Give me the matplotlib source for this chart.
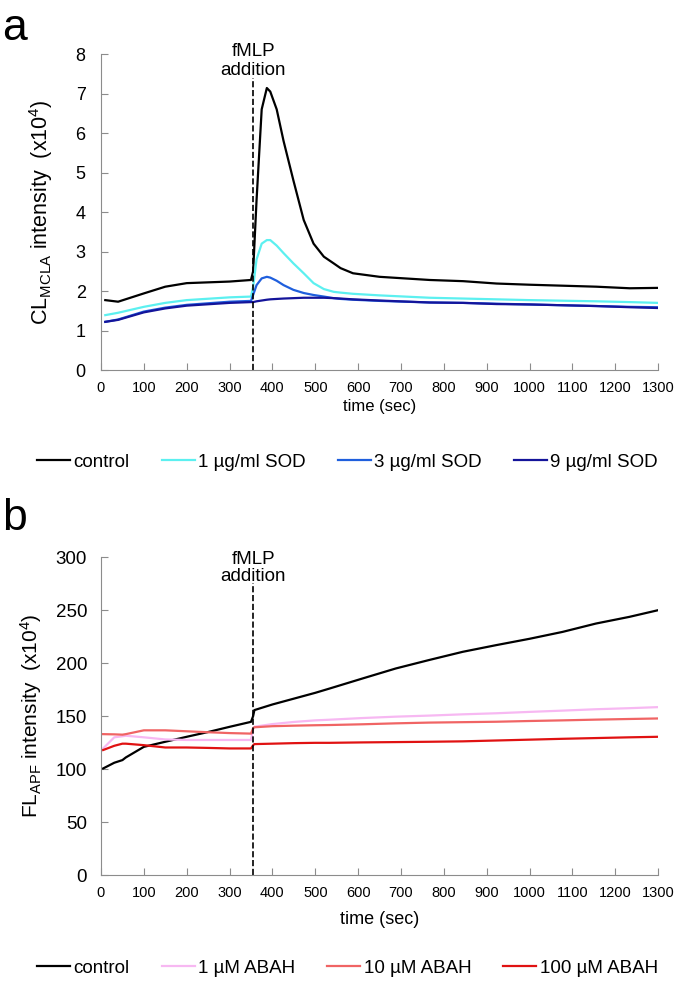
import matplotlib
matplotlib.use("Agg")
import matplotlib.pyplot as plt

plt.rcParams['font.family'] = ['Liberation Sans', 'DejaVu Sans']
plt.rcParams['mathtext.default'] = 'regular'

# panel a: CL (MCLA) intensity, x10^4
t_a = [10, 40, 100, 150, 200, 300, 350, 355, 363, 375, 387, 395, 410, 426, 449, 473, 496,
       520, 543, 559, 588, 650, 767, 845, 923, 1000, 1156, 1234, 1300]
control_a = [1.77, 1.73, 1.94, 2.11, 2.20, 2.24, 2.28, 2.50, 4.30, 6.60, 7.14, 7.05, 6.60, 5.80, 4.80,
             3.80, 3.20, 2.87, 2.70, 2.58, 2.45, 2.36, 2.28, 2.25, 2.19, 2.16, 2.11, 2.07, 2.08]
sod1 = [1.39, 1.45, 1.60, 1.70, 1.77, 1.84, 1.86, 2.10, 2.80, 3.20, 3.29, 3.29, 3.15, 2.96, 2.70,
        2.45, 2.20, 2.05, 1.98, 1.96, 1.93, 1.89, 1.83, 1.81, 1.79, 1.77, 1.74, 1.72, 1.70]
sod3 = [1.22, 1.28, 1.48, 1.58, 1.65, 1.73, 1.75, 1.90, 2.15, 2.32, 2.36, 2.34, 2.26, 2.15, 2.03,
        1.95, 1.90, 1.86, 1.82, 1.80, 1.78, 1.75, 1.71, 1.70, 1.68, 1.66, 1.62, 1.60, 1.59]
sod9 = [1.22, 1.27, 1.46, 1.56, 1.63, 1.70, 1.72, 1.72, 1.74, 1.76, 1.78, 1.79, 1.80, 1.81, 1.82,
        1.83, 1.83, 1.83, 1.82, 1.81, 1.79, 1.76, 1.71, 1.70, 1.67, 1.66, 1.62, 1.59, 1.57]

# panel b: FL (APF) intensity, x10^4
t_b = [5, 31, 50, 58, 100, 150, 200, 250, 300, 350, 355, 358, 400, 450, 500, 533, 610, 688,
       766, 844, 922, 1000, 1077, 1155, 1233, 1300]
control_b = [100.6, 106.0, 108.5, 111.0, 121.0, 125.8, 130.5, 135.0, 139.9, 144.6, 150.0, 155.7,
             161.0, 166.5, 172.0, 176.0, 185.5, 195.0, 203.0, 210.7, 217.0, 223.0, 229.5, 237.4,
             243.7, 250.0]
abah1 = [119.5, 130.0, 131.0, 131.5, 130.0, 128.0, 127.5, 127.5, 127.5, 127.5, 138.0, 140.0,
         142.5, 144.5, 146.0, 146.6, 148.2, 149.5, 150.5, 151.7, 152.7, 154.0, 155.2, 156.5,
         157.5, 158.5]
abah10 = [133.0, 132.8, 132.5, 133.0, 136.6, 136.6, 135.7, 134.8, 134.0, 133.5, 138.5, 139.5,
          140.5, 141.0, 141.4, 141.6, 142.3, 143.2, 143.9, 144.3, 144.7, 145.4, 146.0, 146.7,
          147.3, 147.8]
abah100 = [118.0, 122.0, 124.0, 124.0, 122.6, 120.4, 120.4, 120.0, 119.5, 119.5, 122.5, 123.6,
           124.0, 124.5, 124.8, 124.8, 125.2, 125.5, 125.8, 126.2, 127.0, 127.8, 128.6, 129.3,
           130.0, 130.5]

fmlp_time = 355

fig = plt.figure(figsize=(6.75, 9.81), dpi=100)
ax1 = fig.add_axes([0.1496, 0.6228, 0.8254, 0.3221])
ax2 = fig.add_axes([0.1496, 0.108, 0.8254, 0.324])


def style_axis(ax):
    for s in ['top', 'right']:
        ax.spines[s].set_visible(False)
    for s in ['left', 'bottom']:
        ax.spines[s].set_color('#8c8c8c')
    ax.tick_params(direction='in', length=5, color='#8c8c8c')
    ax.set_xlim(0, 1300)
    ax.set_xticks(range(0, 1301, 100))


leg_kw = dict(loc='center', ncol=4, frameon=False, fontsize=13.5, handlelength=1.75,
              handletextpad=0.2, columnspacing=1.7)

style_axis(ax1)
ax1.plot(t_a, control_a, color='black', lw=1.6, label='control')
ax1.plot(t_a, sod1, color='#5CF0F0', lw=1.6, label='1 µg/ml SOD')
ax1.plot(t_a, sod3, color='#1F5FDD', lw=1.6, label='3 µg/ml SOD')
ax1.plot(t_a, sod9, color='#14149A', lw=1.6, label='9 µg/ml SOD')
ax1.set_ylim(0, 8)
ax1.set_yticks(range(0, 9))
ax1.axvline(fmlp_time, ymin=0, ymax=0.924, color='black', ls='--', lw=1.2)
ax1.text(fmlp_time, 7.82, 'fMLP\naddition', ha='center', va='center', fontsize=13.5, linespacing=1.15)
ax1.tick_params(axis='y', labelsize=13, pad=11)
ax1.tick_params(axis='x', labelsize=10.5, pad=8)
ax1.set_ylabel('CL$_{MCLA}$ intensity  (x10$^{4}$)', fontsize=15.5, labelpad=15)
ax1.set_xlabel('time (sec)', fontsize=12, labelpad=3)
fig.legend(*ax1.get_legend_handles_labels(), bbox_to_anchor=(0.515, 1 - 462 / 981), **leg_kw)

style_axis(ax2)
ax2.plot(t_b, control_b, color='black', lw=1.6, label='control')
ax2.plot(t_b, abah1, color='#F7B8F2', lw=1.6, label='1 µM ABAH')
ax2.plot(t_b, abah10, color='#F06464', lw=1.6, label='10 µM ABAH')
ax2.plot(t_b, abah100, color='#E01212', lw=1.6, label='100 µM ABAH')
ax2.set_ylim(0, 300)
ax2.set_yticks(range(0, 301, 50))
ax2.axvline(fmlp_time, ymin=0, ymax=0.918, color='black', ls='--', lw=1.2)
ax2.text(fmlp_time, 290, 'fMLP\naddition', ha='center', va='center', fontsize=13.5, linespacing=1.0)
ax2.tick_params(axis='y', labelsize=13.5, pad=10)
ax2.tick_params(axis='x', labelsize=10.5, pad=8)
ax2.set_ylabel('FL$_{APF}$ intensity  (x10$^{4}$)', fontsize=15, labelpad=8)
ax2.set_xlabel('time (sec)', fontsize=13, labelpad=8)
fig.legend(*ax2.get_legend_handles_labels(), bbox_to_anchor=(0.515, 1 - 968 / 981), **leg_kw)

fig.text(0.003, 0.992, 'a', fontsize=32, va='top', ha='left')
fig.text(0.003, 0.492, 'b', fontsize=32, va='top', ha='left')

fig.savefig('out.png', dpi=100)
